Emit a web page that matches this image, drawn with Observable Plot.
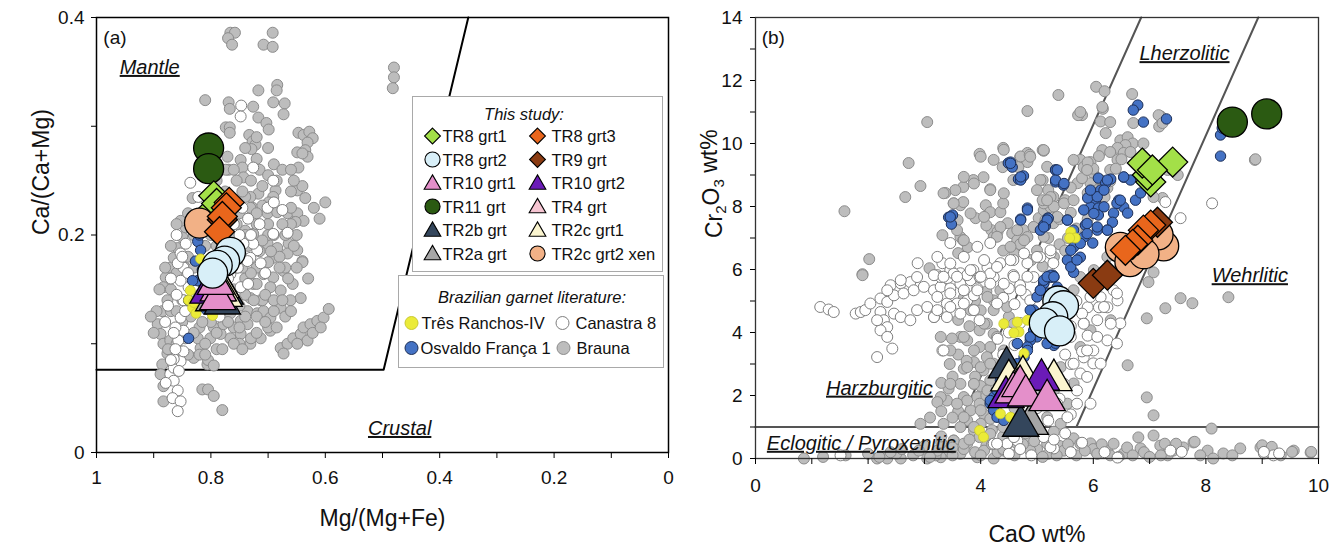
<!DOCTYPE html>
<html><head><meta charset="utf-8">
<script src="https://cdn.jsdelivr.net/npm/d3@7"></script>
<script src="https://cdn.jsdelivr.net/npm/@observablehq/plot@0.6"></script>
<style>
body{margin:0;background:#fff;font-family:"Liberation Sans",Arial,sans-serif;}
#wrap{position:relative;width:1340px;height:549px;overflow:hidden;background:#fff}
.lg{position:absolute;background:#fff;border:1.5px solid #a9a9a9;box-sizing:border-box;font-size:16.5px;color:#111}
.lt{position:absolute;white-space:nowrap;line-height:1}
</style></head><body><div id="wrap"></div>
<script>
// ---------------- series meta ----------------
const studyNames  = ["TR8 grt1","TR8 grt3","TR8 grt2","TR9 grt","TR10 grt1","TR10 grt2","TR11 grt","TR4 grt","TR2b grt","TR2c grt1","TR2a grt","TR2c grt2 xen"];
const studyFill   = ["#a3e048","#e9661c","#d8eff8","#8a3b12","#e48fca","#6b1bb8","#2b5a12","#f6c5d2","#34465c","#fbf5cf","#a6a6a6","#f2b186"];
const studySymbol = ["diamond2","diamond2","circle","diamond2","triangle","triangle","circle","triangle","triangle","triangle","triangle","circle"];
const drawOrder   = ["TR11 grt","TR8 grt1","TR2c grt2 xen","TR9 grt","TR8 grt3","TR2a grt","TR2b grt","TR2c grt1","TR4 grt","TR10 grt2","TR10 grt1","TR8 grt2"];
const litNames = ["Três Ranchos-IV","Canastra 8","Osvaldo França 1","Brauna"];
const litFill  = ["#ebeb38","#ffffff","#4472c4","#bdbdbd"];
const litStroke= ["#c9c930","#7f7f7f","#1d2f57","#8c8c8c"];

// ---------------- panel (a): Mg/(Mg+Fe) vs Ca/(Ca+Mg) ----------------
const xTicksA = [0,0.1,0.2,0.3,0.4,0.5,0.6,0.7,0.8,0.9,1];
const yTicksA = [0,0.1,0.2,0.3,0.4];
const boundaryA = [[1,0.076],[0.498,0.076],[0.35,0.4]];
const studyA = [
 ["TR11 grt",0.804,0.280],["TR11 grt",0.804,0.261],
 ["TR8 grt1",0.795,0.236],["TR8 grt1",0.80,0.222],["TR8 grt1",0.79,0.229],
 ["TR2c grt2 xen",0.82,0.211],
 ["TR9 grt",0.78,0.214],
 ["TR8 grt3",0.768,0.230],["TR8 grt3",0.773,0.225],["TR8 grt3",0.78,0.217],["TR8 grt3",0.785,0.203],
 ["TR2a grt",0.795,0.140],
 ["TR2b grt",0.775,0.146],["TR2b grt",0.78,0.137],
 ["TR2c grt1",0.782,0.152],["TR2c grt1",0.777,0.144],
 ["TR4 grt",0.79,0.149],
 ["TR10 grt2",0.805,0.147],
 ["TR10 grt1",0.787,0.149],["TR10 grt1",0.788,0.141],["TR10 grt1",0.792,0.155],
 ["TR8 grt2",0.766,0.184],["TR8 grt2",0.776,0.176],["TR8 grt2",0.789,0.172],["TR8 grt2",0.797,0.165]
];
const braunaA = [
 [0.766,0.386],[0.758,0.386],[0.77,0.381],[0.763,0.375],[0.692,0.386],[0.708,0.375],[0.692,0.373],
 [0.48,0.354],[0.48,0.345],[0.482,0.335],
 [0.81,0.324],[0.717,0.333],[0.684,0.338],[0.685,0.333],[0.769,0.322],[0.767,0.316],[0.726,0.318],[0.717,0.308],[0.703,0.303],[0.699,0.297],[0.691,0.322],[0.671,0.321],[0.673,0.311],[0.774,0.299],[0.767,0.299],[0.767,0.294],[0.733,0.292],[0.727,0.286],[0.722,0.283],[0.729,0.279],
 [0.647,0.294],[0.638,0.292],[0.628,0.295],[0.622,0.289],[0.649,0.276],[0.631,0.285],[0.635,0.278],[0.631,0.272],[0.640,0.275],
 [0.771,0.272],[0.769,0.260],[0.774,0.260],[0.748,0.269],[0.745,0.262],[0.743,0.253],[0.647,0.262],
 [0.687,0.241],[0.691,0.235],[0.699,0.230],[0.717,0.238],[0.731,0.235],[0.727,0.225],[0.649,0.241],[0.635,0.234],[0.657,0.220],[0.832,0.234],
 [0.731,0.225],[0.710,0.227],[0.701,0.220],[0.684,0.221],[0.666,0.220],[0.649,0.220],[0.638,0.213],[0.652,0.212],[0.740,0.204],[0.726,0.201],
 [0.701,0.192],[0.684,0.188],[0.664,0.192],[0.649,0.186],[0.640,0.176],[0.666,0.183],[0.691,0.179],
 [0.708,0.164],[0.691,0.161],[0.673,0.167],[0.657,0.155],[0.643,0.142],[0.661,0.140],[0.678,0.149],[0.696,0.152],
 [0.726,0.155],[0.731,0.142],[0.713,0.140],[0.736,0.130],[0.719,0.128],[0.748,0.121],[0.760,0.115],[0.736,0.118],[0.708,0.130],[0.696,0.124],[0.678,0.133],[0.696,0.112],[0.713,0.105],[0.731,0.100],[0.748,0.109],[0.766,0.105],[0.783,0.109],[0.801,0.105],[0.795,0.115],[0.778,0.118],[0.766,0.128],
 [0.678,0.096],[0.666,0.100],[0.656,0.105],[0.643,0.109],[0.638,0.115],[0.626,0.118],[0.614,0.121],[0.603,0.124],[0.594,0.132],[0.631,0.103],[0.649,0.100],[0.622,0.110],[0.608,0.115],[0.673,0.091],
 [0.893,0.118],[0.885,0.130],[0.876,0.140],[0.879,0.161],[0.883,0.152],[0.871,0.170],[0.865,0.179],[0.858,0.188],[0.850,0.198],[0.844,0.207],[0.853,0.213],
 [0.888,0.109],[0.883,0.100],[0.876,0.091],[0.885,0.081],[0.871,0.103],[0.858,0.093],[0.830,0.087],[0.818,0.096],[0.806,0.081],[0.823,0.105],
 [0.883,0.047],[0.883,0.061],[0.815,0.058],[0.805,0.058],[0.795,0.052],[0.780,0.039],[0.888,0.072],
 [0.84,0.22],[0.86,0.21],[0.87,0.19],[0.88,0.17],[0.89,0.15],[0.87,0.13],[0.85,0.12],[0.86,0.10],[0.84,0.09],[0.82,0.115],[0.80,0.12],[0.81,0.10],[0.79,0.11],[0.77,0.12],[0.75,0.135],[0.76,0.15],[0.74,0.16],[0.755,0.17],[0.745,0.18],[0.76,0.19],[0.74,0.2],[0.755,0.21],[0.77,0.22],[0.72,0.21],[0.70,0.2],[0.715,0.185],[0.72,0.17],[0.70,0.175],[0.68,0.18],[0.69,0.2],[0.66,0.21],[0.65,0.2],[0.67,0.17],[0.63,0.16],[0.64,0.175],[0.71,0.14],[0.69,0.13],[0.67,0.125],[0.7,0.115],[0.73,0.105],[0.75,0.1],[0.72,0.125],[0.74,0.145],[0.80,0.24],[0.79,0.25],[0.74,0.235],[0.73,0.25],[0.71,0.245],[0.76,0.26],[0.69,0.265],[0.70,0.28],[0.72,0.29],[0.66,0.24],[0.62,0.225],[0.61,0.215],[0.60,0.23],[0.64,0.245],[0.82,0.09],[0.805,0.085],[0.79,0.095],[0.875,0.095],[0.9,0.11],[0.895,0.13],[0.905,0.125],
 [0.70,0.21],[0.71,0.195],[0.695,0.185],[0.68,0.17],[0.665,0.16],[0.65,0.17],[0.655,0.19],[0.67,0.2],[0.675,0.21],[0.66,0.225],[0.72,0.22],[0.735,0.19],[0.73,0.165],[0.72,0.155],[0.705,0.145],[0.69,0.14],[0.675,0.14],[0.66,0.13],[0.685,0.115],[0.705,0.12],[0.72,0.11],[0.74,0.125],[0.755,0.14],[0.77,0.135],[0.785,0.13],[0.8,0.14],[0.815,0.12],[0.83,0.11],[0.845,0.105],[0.86,0.13],[0.87,0.15],[0.86,0.165],[0.85,0.14],[0.835,0.125],[0.81,0.09],[0.795,0.08],[0.78,0.095],[0.76,0.1],[0.745,0.095],[0.75,0.115],[0.725,0.14],[0.745,0.17],[0.76,0.18],[0.765,0.2],[0.75,0.22],[0.745,0.24],[0.76,0.23],[0.775,0.24],[0.785,0.21],[0.79,0.19],[0.8,0.2],[0.81,0.19],[0.83,0.2],[0.84,0.18],[0.845,0.17],[0.83,0.17],[0.815,0.155],[0.805,0.16],[0.715,0.26],[0.7,0.255],[0.685,0.25],[0.675,0.26],[0.66,0.26],[0.655,0.25],[0.72,0.27],[0.74,0.28],[0.755,0.25]
];
const canastraA = [
 [0.747,0.319],[0.748,0.309],[0.691,0.250],[0.836,0.248],[0.822,0.235],[0.675,0.223],[0.701,0.225],[0.691,0.201],[0.666,0.202],[0.719,0.186],[0.731,0.179],[0.713,0.174],[0.726,0.262],
 [0.871,0.072],[0.865,0.066],[0.879,0.064],[0.858,0.057],[0.867,0.050],[0.853,0.047],[0.858,0.038],[0.865,0.078],[0.853,0.084],[0.848,0.093],[0.857,0.103],[0.848,0.112],[0.862,0.115],[0.853,0.124],[0.848,0.140],[0.839,0.152],[0.853,0.158],[0.848,0.170],[0.858,0.174],[0.853,0.183],[0.844,0.192],
 [0.753,0.170],[0.736,0.176],[0.726,0.192],[0.743,0.192],[0.778,0.158],[0.766,0.164],[0.748,0.152],[0.766,0.142],
 [0.87,0.16],[0.86,0.145],[0.875,0.135],[0.88,0.12],[0.865,0.11],[0.86,0.2],[0.85,0.18],[0.84,0.165],[0.83,0.15],[0.82,0.145],[0.77,0.16],[0.78,0.175],[0.75,0.2],[0.73,0.2],[0.735,0.215],[0.69,0.23],[0.80,0.13],[0.785,0.125],[0.865,0.086],[0.856,0.075],
 [0.76,0.21],[0.745,0.225],[0.715,0.21],[0.705,0.165],[0.735,0.155],[0.79,0.2],[0.8,0.21],[0.83,0.21],[0.845,0.13],[0.87,0.085],[0.862,0.095]
];
const osvaldoA = [[0.823,0.194],[0.818,0.186],[0.827,0.176],[0.823,0.158],[0.832,0.158],[0.839,0.140],[0.839,0.105],[0.809,0.132],[0.82,0.2],[0.815,0.168]];
const tresA = [[0.836,0.149],[0.839,0.140],[0.832,0.133],[0.797,0.126],[0.818,0.178],[0.830,0.138],[0.826,0.128]];

// ---------------- panel (b): CaO vs Cr2O3 ----------------
const xTicksB = [0,1,2,3,4,5,6,7,8,9,10];
const yTicksB = [0,1,2,3,4,5,6,7,8,9,10,11,12,13,14];
const lineEclogitic = [[0,1],[10,1]];
const lineLherzLeft = [[3.6,1],[6.85,14]];
const lineWehrlitic = [[5.7,1],[8.93,14]];
const studyB = [
 ["TR11 grt",8.47,10.68],["TR11 grt",9.08,10.94],
 ["TR8 grt1",7.02,8.78],["TR8 grt1",6.96,9.0],["TR8 grt1",7.41,9.41],["TR8 grt1",6.87,9.38],["TR8 grt1",7.05,9.16],
 ["TR2c grt2 xen",7.25,6.75],["TR2c grt2 xen",7.15,7.1],["TR2c grt2 xen",6.48,6.7],["TR2c grt2 xen",6.65,6.25],["TR2c grt2 xen",6.9,6.5],
 ["TR9 grt",6.0,5.56],["TR9 grt",6.25,5.82],["TR9 grt",7.14,7.5],
 ["TR8 grt3",7.02,7.41],["TR8 grt3",6.89,7.25],["TR8 grt3",6.79,6.93],["TR8 grt3",6.7,6.8],["TR8 grt3",6.57,6.61],
 ["TR2a grt",4.88,1.1],
 ["TR2b grt",4.46,2.89],["TR2b grt",4.71,1.04],
 ["TR2c grt1",4.5,2.48],["TR2c grt1",5.3,2.49],["TR2c grt1",4.75,2.6],
 ["TR4 grt",4.65,2.2],
 ["TR10 grt2",5.08,2.5],["TR10 grt2",4.45,1.95],
 ["TR10 grt1",4.58,2.1],["TR10 grt1",4.7,2.3],["TR10 grt1",4.8,2.0],["TR10 grt1",5.18,1.85],
 ["TR8 grt2",5.37,5.0],["TR8 grt2",5.47,4.85],["TR8 grt2",5.28,4.5],["TR8 grt2",5.13,4.3],["TR8 grt2",5.4,4.05]
];
const braunaB = [
 [5.38,11.54],[4.83,11.03],[3.05,10.68],[2.72,9.38],[2.93,8.65],[2.66,8.3],[1.58,7.85],[2.02,6.33],[1.9,5.85],[3.98,9.67],[4.4,9.86],[4.7,9.57],[4.83,9.7],[4.83,9.41],[4.67,9.25],[5.1,9.79],[4.39,9.25],[4.58,8.84],[4.05,8.93],[3.87,8.84],[3.69,8.62],[3.55,8.52],[3.37,8.43],[4.17,8.55],[3.52,8.1],[3.64,8.04],[3.69,8.14],[4.09,8.04],[4.17,7.82],[4.35,7.82],[4.4,8.1],[3.91,7.63],[3.32,7.09],[3.59,7.57],[3.64,7.03],[3.77,6.71],[3.69,6.93],[4.19,7.25],[4.23,7.03],
 [4.48,7.47],[4.56,7.15],[4.65,6.93],[4.76,7.25],[4.83,7.03],[4.94,7.35],[5.03,7.63],[5.12,7.88],[5.24,7.98],[5.29,8.3],[5.12,8.1],[5.2,8.52],[5.1,8.84],[5.15,7.57],[5.29,7.47],[3.09,6.04],[3.6,6.52],
 [6.05,11.8],[6.2,11.66],[6.69,11.57],[6.17,11.1],[5.8,10.9],[5.73,10.9],[6.13,10.7],[7.2,10.86],[7.17,10.54],[8.87,9.48],[4.41,9.8],[4.71,9.59],[4.87,9.64],[5.12,9.77],
 [5.77,11.0],[6.16,11.16],[6.3,10.68],[7.16,10.9],[7.23,10.65],[6.71,10.65],[6.22,10.33],[6.48,10.1],[6.61,10.2],[6.7,10.0],[6.57,9.95],[6.43,9.86],[6.54,9.7],[6.66,9.73],[6.89,10.0],[6.16,9.79],[6.3,9.73],[5.12,9.79],[5.77,9.48],[5.95,9.41],[5.83,9.25],[6.0,9.06],[6.13,8.84],[5.95,8.74],[5.72,8.74],[5.9,8.43],[6.07,8.52],[6.25,8.59],[6.43,9.48],[6.3,9.16],[5.06,8.84],[5.1,8.2],[5.24,8.3],[7.32,9.16],[7.41,9.41],[7.5,9.0],[7.23,8.27],[7.07,8.3],[7.07,5.91],[6.98,5.6],[8.88,9.5],[8.4,5.12],[7.55,5.09],[7.76,4.93],[7.28,4.77],[6.95,4.45],[6.61,2.96],[6.95,1.94],[7.07,1.37],[8.1,0.95],[6.8,0.67],[7.07,0.73],[7.78,0.51],
 [5.65,0.64],[5.95,0.48],[6.25,0.25],[6.54,0.16],[6.84,0.32],[7.19,0.41],[7.42,0.25],[7.6,0.35],[8.03,0.25],[8.31,0.16],[8.61,0.32],[8.97,0.35],[9.15,0.19],[9.56,0.25],[9.86,0.19],[9.33,0.1],[7.9,0.1],[7.32,0.1],[5.42,0.32],[5.24,0.48],[6.07,0.16],
 [9.0,0.42],[9.17,0.37],[9.53,0.21],[9.87,0.21],[8.47,0.1],[8.13,0.0],[7.8,0.53],[7.47,0.47],[7.27,0.47],
 [1.9,5.82],[3.7,2.85],[3.88,3.06],[3.76,3.75],[3.64,3.86],[3.49,3.81],[3.43,2.22],[3.4,1.84],[3.29,1.95],[3.23,1.79],[3.64,2.37],[3.88,2.37],[3.7,1.95],[3.94,1.95],[3.82,1.53],[3.98,1.74],[4.05,1.42],[4.17,1.26],[3.76,1.21],[3.64,1.0],[3.88,0.89],[3.98,0.68],[3.76,0.47],[3.52,0.57],[3.4,0.25],[3.64,0.15],[3.94,0.04],[4.23,0.0],[3.29,0.04],[3.05,0.0],[2.93,1.1],[2.58,0.0],[2.34,0.0],[2.16,0.0],[0.86,0.0],[4.11,4.28],[4.23,3.96],[4.17,3.54],[3.98,3.54],[4.11,3.22],[4.23,3.01],[4.05,2.8],[4.17,2.48],[3.98,4.07],[4.23,4.71],[4.35,5.34],[4.23,5.02],
 [5.24,4.81],[5.48,4.92],[5.65,5.34],[5.77,5.76],[6.01,5.98],[6.25,6.4],[6.42,6.72],[5.59,3.96],[5.95,4.07],[6.31,4.39],[5.77,3.54],[5.42,2.9],[5.65,2.38],[5.54,1.74],[5.3,2.16],[5.18,1.31],[5.42,1.1],[6.13,5.76],[6.48,6.08],[6.6,6.3],
 [5.3,8.0],[5.5,8.2],[5.6,8.6],[5.8,8.9],[6.0,9.2],[5.4,7.6],[5.6,7.8],[5.7,7.3],[5.9,7.6],[6.1,8.0],[6.2,8.3],[5.2,7.0],[5.4,6.8],[5.55,7.0],[5.0,6.6],[4.9,6.3],[5.1,6.1],[5.3,6.4],[5.5,6.6],[5.7,6.9],[6.3,8.8],[6.4,9.2],[6.5,9.5],[5.9,9.4],[6.1,9.6],[4.7,6.8],[4.6,6.5],[4.4,6.6],[4.3,7.2],[4.1,7.4],
 [3.6,3.3],[3.75,3.1],[3.9,2.6],[4.0,2.3],[4.1,2.0],[4.0,1.1],[4.2,0.9],[4.4,0.7],[4.1,0.4],[4.3,0.2],[4.5,0.5],[4.6,0.9],[4.8,0.6],[5.0,0.3],[5.2,0.15],[5.4,0.4],[5.7,0.1],[6.0,0.3],[6.3,0.1],[6.6,0.35],[6.9,0.2],[7.2,0.1],[3.9,0.2],[3.7,0.3],[3.5,0.1],[3.2,0.1],[2.8,0.1],[2.5,0.15],[2.2,0.05],[3.0,0.4],[3.6,4.4],[3.8,4.2],[3.9,5.0],[4.1,5.3],[3.7,5.1],[4.0,4.7],[4.5,4.5],[4.4,3.0],[4.3,1.7],[3.6,1.5],[3.5,2.6],[3.3,2.4],[3.45,3.0],[4.6,1.6],[4.7,1.9],
 [3.70,3.86],[3.88,3.43],[3.76,2.9],[4.0,2.9],[3.88,2.37],[4.12,2.16],[3.76,1.84],[4.0,1.53],[3.7,1.31],[3.88,1.0],[4.17,0.78],[3.7,0.47],[4.06,0.25],[4.41,0.25],[4.65,0.47],[4.88,0.25],[5.18,0.47],[5.48,0.25],[5.77,0.47],[6.07,0.15],[6.36,0.47],[4.29,3.86],[4.41,3.43],[4.53,3.01],[3.46,3.43],[3.46,2.37],[3.58,1.74],[3.34,1.1],[3.52,0.57],[3.23,0.25],[4.17,3.01],[4.06,4.28],[3.82,4.71],[4.12,5.13],[4.47,4.81],[4.59,4.28],[3.29,3.86],[3.17,4.49],
 [4.0,9.58],[4.23,9.48],[4.88,9.58],[5.18,9.26],[5.65,9.48],[5.89,9.16],[3.7,8.94],[3.88,8.73],[4.17,8.52],[4.41,8.42],[5.0,8.52],[5.18,8.2],[3.34,8.42],[3.52,8.1],[3.82,7.78],[4.06,7.67],[4.35,7.35],[4.65,7.25],[4.94,7.35],[5.36,7.67],[5.48,8.1],[5.65,8.2],[3.58,7.25],[3.7,6.93],[4.29,7.04],[4.53,6.72],[4.77,6.93],[5.12,7.04],
 [2.4,0.2],[2.6,0.3],[2.9,0.25],[3.1,0.05],[3.3,0.5],[3.5,0.35],[3.8,0.6],[4.0,0.1],[4.2,0.45],[4.4,0.3],[4.6,0.1],[4.75,0.45],[4.95,0.55],[5.1,0.05],[5.35,0.1],[5.55,0.45],[5.85,0.25],[6.15,0.45],[6.45,0.05],[6.7,0.1],[7.0,0.05],[1.2,0.05],[1.6,0.1],[2.0,0.15],[4.4,1.0],[4.6,1.2],[5.0,1.0],[5.3,0.85],[4.8,0.8],[3.3,0.7],[3.5,1.3],[3.3,1.5],[3.1,1.3]
];
const canastraB = [
 [2.88,6.2],[3.32,6.2],[3.46,5.98],[3.64,5.88],[3.87,5.98],[4.12,6.07],[4.35,6.2],[4.58,6.3],[4.83,6.2],[5.06,6.39],[5.24,6.52],[5.29,6.2],[3.46,6.84],[4.17,6.84],[2.4,5.5],[2.58,5.56],[2.75,5.6],[3.23,5.82],[3.41,5.72],[3.87,5.76],[4.23,5.76],[4.58,5.82],[4.94,5.76],
 [8.11,8.1],[7.55,7.63],[7.28,8.14],[7.02,7.03],[7.14,7.25],[6.43,5.02],[6.25,4.8],[6.48,4.29],[6.07,4.39],[5.83,4.29],[5.9,4.8],[6.13,5.12],[6.36,5.34],[6.25,3.75],[6.0,3.43],[5.83,3.21],[6.0,3.02],[5.77,2.7],[5.3,0.32],[6.43,0.03],[7.37,0.25],[9.03,0.16],[9.2,0.1],[7.57,0.21],[9.3,0.16],[9.03,0.21],
 [1.15,4.81],[1.3,4.73],[1.39,4.65],[1.78,4.6],[1.87,4.65],[1.95,4.71],[2.04,4.92],[2.22,5.08],[2.34,4.97],[2.46,5.18],[2.63,5.24],[2.81,5.34],[2.99,5.45],[3.17,5.34],[3.29,5.45],[3.46,5.4],[3.64,5.55],[3.82,5.66],[3.98,5.76],[4.17,5.87],[2.58,5.66],[2.87,5.76],[3.29,5.76],[3.52,5.87],[3.76,5.82],[2.46,4.6],[2.22,4.65],[2.28,4.39],[2.34,4.17],[2.22,4.07],[2.34,3.86],[2.43,3.49],[2.16,3.22],[2.16,4.39],[2.58,4.49],[2.75,4.39],[2.87,4.71],[3.05,4.81],[3.23,4.65],[3.4,4.92],[3.58,4.92],[3.76,5.02],[3.88,4.71],[3.98,4.39],[3.88,5.18],[3.4,4.49],[3.17,4.49],[3.32,3.43],[3.64,4.6],[2.34,5.34],[3.17,5.82],[3.94,5.4],
 [4.47,0.47],[4.65,0.57],[4.23,0.47],[5.24,0.36],[5.12,0.68],[1.51,0.1],
 [4.5,5.4],[4.7,5.5],[4.4,5.1],[4.6,4.9],[4.8,5.2],[5.0,4.6],[4.7,4.3],[4.5,4.0],[4.6,3.6],[4.3,3.8],[4.4,3.3],[5.5,4.6],[5.7,5.0],[5.6,4.2],[5.8,4.6],[6.0,5.3],[5.9,5.6],[5.5,3.3],[5.3,2.8],[5.6,3.0],[5.8,3.4],[5.9,3.9],[6.1,4.8],[5.2,2.3],[5.1,2.0],[5.4,1.9],[5.0,1.6],[5.2,1.2],[4.9,0.9],[5.3,0.6],[5.5,0.8],[5.6,1.4],[4.7,0.3],[4.5,0.15],[4.9,0.1],[5.6,0.2],[5.8,0.5],[6.2,0.2],
 [3.23,6.4],[3.46,6.19],[3.34,5.77],[3.58,5.77],[3.82,5.98],[4.06,6.3],[4.29,6.08],[4.53,6.3],[4.77,6.51],[5.0,6.4],[5.24,6.61],[4.59,5.77],[4.83,5.77],[4.41,5.55],[4.17,5.55],[3.94,5.34],[3.7,5.34],[3.46,5.24],[3.23,5.13],[3.46,4.81],[3.7,4.92],[4.29,4.92],[4.71,5.34],[4.88,5.02],[3.23,4.71],[4.0,5.77],[3.7,6.4],[3.94,6.72],
 [5.6,3.86],[5.83,4.28],[6.07,3.86],[6.31,4.28],[5.89,3.43],[5.65,3.01],[5.89,2.59],[6.13,3.01],[5.71,2.16],[5.54,1.31],[5.71,1.74],[5.95,1.74],[5.48,2.37],[5.36,1.74],[6.42,3.65],[6.19,4.81],[5.95,5.13],[6.42,5.24],[3.34,3.43],[4.29,0.47],[4.59,0.68]
];
const osvaldoB = [
 [4.49,9.38],[4.56,9.25],[4.53,9.41],[4.67,8.87],[4.76,8.97],[4.71,8.84],[3.43,7.66],[3.5,7.73],[3.48,7.44],[4.83,7.95],[4.71,7.6],[5.19,7.63],[5.15,7.38],[5.33,9.16],[5.33,8.78],[5.19,5.76],[5.28,5.82],[5.12,5.56],
 [6.79,11.22],[6.71,11.06],[6.89,10.68],[7.3,10.78],[8.26,10.27],[8.29,10.49],[8.26,9.6],[5.33,9.16],[5.33,8.84],[5.47,8.68],
 [6.09,8.9],[6.31,8.87],[6.54,8.93],[6.66,8.84],[6.22,8.74],[6.13,8.52],[6.04,8.2],[5.95,7.98],[6.09,7.95],[5.9,8.27],[6.45,8.2],[6.54,7.98],[6.61,7.79],[6.75,8.2],[6.84,8.43],[6.36,7.79],[6.34,7.5],[6.09,7.73],[5.54,7.57],[5.86,7.41],[6.07,7.25],[6.25,7.25],[5.83,7.03],[5.99,6.84],[5.65,6.71],[5.54,6.3],[5.77,6.39],[5.65,5.91],[5.24,5.75],[5.12,5.56],[5.36,5.44],[5.19,5.25],
 [5.12,7.41],[5.2,7.63],[5.06,7.25],[5.3,3.59],[5.33,3.66],
 [5.12,5.66],[5.24,5.82],[5.3,5.76],[5.06,5.34],[5.0,5.13],[4.94,4.71],[5.0,3.86],[4.88,3.75],[4.83,3.54],[4.77,3.22],[4.65,3.01],[4.47,2.8],[4.35,2.48],[4.29,2.16],[4.23,1.95],[4.17,1.74],[4.23,1.53],[4.29,1.31],[4.41,1.21],[4.94,4.07],[5.18,3.65],
 [4.17,1.84],[4.29,2.16],[4.65,3.65],[4.83,3.43],[4.88,3.86],[4.88,4.71],[5.06,5.34],[5.18,5.77],[5.3,5.77],[5.6,6.08],[5.71,6.3],[5.6,6.61],[5.77,6.83],[5.89,7.14],[6.07,7.35],[6.25,7.25],[5.89,7.46],[5.54,7.57],[6.01,7.78],[6.19,7.99],[6.42,8.1],[6.07,8.31],[5.95,8.52],[6.19,8.52],[6.25,8.84],[6.54,8.94],[6.48,8.2],[5.36,9.16],[5.48,8.73],[4.53,9.37],[4.71,8.94],[4.83,7.89],[4.71,7.57],[5.18,7.57],[3.46,7.67],[5.12,7.35],[5.83,7.89],[5.65,7.25]
];
const tresB = [[5.6,7.19],[5.68,7.0],[5.58,7.0],[4.41,4.28],[4.65,4.33],[4.68,4.02],[4.83,4.39],[4.59,3.99],[4.77,3.33],[4.71,2.9],[3.98,0.89],[4.05,0.68],[4.53,1.31],[4.35,1.42]];

// ---------------- rendering ----------------
const FONT = '"Liberation Sans", Arial, sans-serif';
const fillOf = n => studyFill[studyNames.indexOf(n)];
const symOf = n => studySymbol[studyNames.indexOf(n)];
const rOf = s => s === "circle" ? 15 : 13.5;

function litMarks(brauna, canastra, osvaldo, tres) {
  return [
    Plot.dot(brauna, {x: d => d[0], y: d => d[1], r: 5.5, fill: litFill[3], stroke: litStroke[3], strokeWidth: 1}),
    Plot.dot(canastra, {x: d => d[0], y: d => d[1], r: 5.5, fill: litFill[1], stroke: litStroke[1], strokeWidth: 1}),
    Plot.dot(osvaldo, {x: d => d[0], y: d => d[1], r: 5.2, fill: litFill[2], stroke: litStroke[2], strokeWidth: 1}),
    Plot.dot(tres, {x: d => d[0], y: d => d[1], r: 5, fill: litFill[0], stroke: litStroke[0], strokeWidth: 0.8})
  ];
}
function studyMarks(rows) {
  return drawOrder.map(n => Plot.dot(rows.filter(r => r[0] === n), {
    x: d => d[1], y: d => d[2], symbol: symOf(n), r: rOf(symOf(n)),
    fill: fillOf(n), stroke: "#000", strokeWidth: 1.3
  }));
}

const plotA = Plot.plot({
  width: 680, height: 549, marginLeft: 96, marginRight: 12, marginTop: 17, marginBottom: 97,
  x: {domain: [1, 0]}, y: {domain: [0, 0.4]},
  style: {fontFamily: FONT, fontSize: "19px", color: "#111", background: "transparent", overflow: "visible"},
  marks: [
    Plot.line(boundaryA, {x: d => d[0], y: d => d[1], stroke: "#000", strokeWidth: 2}),
    ...litMarks(braunaA, canastraA, osvaldoA, tresA),
    ...studyMarks(studyA),
    Plot.frame({stroke: "#000", strokeWidth: 1.5}),
    Plot.axisX({ticks: xTicksA, tickFormat: (d) => (Math.round(d * 10) % 2 === 0) ? (d === 1 ? "1" : d === 0 ? "0" : d.toFixed(1)) : "", tickSize: 6, tickPadding: 12, label: null, stroke: "#000"}),
    Plot.axisY({ticks: yTicksA, tickFormat: (d) => (Math.round(d * 10) % 2 === 0) ? (d === 0 ? "0" : d.toFixed(1)) : "", tickSize: 5, tickPadding: 7, label: null, stroke: "#000"}),
    Plot.text(["(a)"], {x: 0.988, y: 0.381, text: d => d, textAnchor: "start", fontSize: 19}),
    Plot.text(["Mantle"], {x: 0.907, y: 0.354, text: d => d, fontSize: 20, fontStyle: "italic"}),
    Plot.text(["Crustal"], {x: 0.47, y: 0.022, text: d => d, fontSize: 20, fontStyle: "italic"}),
    Plot.text(["Mg/(Mg+Fe)"], {frameAnchor: "bottom", dy: 73, text: d => d, fontSize: 23}),
    Plot.text(["Ca/(Ca+Mg)"], {frameAnchor: "left", dx: -55, rotate: -90, text: d => d, fontSize: 23})
  ]
});

const plotB = Plot.plot({
  width: 660, height: 549, marginLeft: 75, marginRight: 22, marginTop: 17, marginBottom: 91,
  x: {domain: [0, 10]}, y: {domain: [0, 14]},
  style: {fontFamily: FONT, fontSize: "19px", color: "#111", background: "transparent", overflow: "visible"},
  marks: [
    Plot.line(lineEclogitic, {x: d => d[0], y: d => d[1], stroke: "#555", strokeWidth: 2}),
    Plot.line(lineLherzLeft, {x: d => d[0], y: d => d[1], stroke: "#555", strokeWidth: 2}),
    Plot.line(lineWehrlitic, {x: d => d[0], y: d => d[1], stroke: "#555", strokeWidth: 2}),
    ...litMarks(braunaB, canastraB, osvaldoB, tresB),
    ...studyMarks(studyB),
    Plot.frame({stroke: "#333", strokeWidth: 1.3}),
    Plot.axisX({ticks: xTicksB, tickFormat: d => d % 2 === 0 ? String(d) : "", tickSize: 6, tickPadding: 14, label: null, stroke: "#000"}),
    Plot.axisY({ticks: yTicksB, tickFormat: d => d % 2 === 0 ? String(d) : "", tickSize: 5, tickPadding: 8, label: null, stroke: "#000"}),
    Plot.text(["(b)"], {x: 0.11, y: 13.35, text: d => d, textAnchor: "start", fontSize: 19}),
    Plot.text(["Lherzolitic"], {x: 7.62, y: 12.85, text: d => d, fontSize: 20, fontStyle: "italic"}),
    Plot.text(["Wehrlitic"], {x: 8.78, y: 5.8, text: d => d, fontSize: 20, fontStyle: "italic"}),
    Plot.text(["Harzburgitic"], {x: 2.2, y: 2.23, text: d => d, fontSize: 20, fontStyle: "italic"}),
    Plot.text(["Eclogitic / Pyroxenitic"], {x: 1.88, y: 0.48, text: d => d, fontSize: 20, fontStyle: "italic"}),
    Plot.text(["CaO wt%"], {frameAnchor: "bottom", dy: 83, text: d => d, fontSize: 23}),
    Plot.text(["Cr2O3 wt%"], {frameAnchor: "left", dx: -41, rotate: -90, text: d => d, fontSize: 23})
  ]
});

const wrap = document.getElementById("wrap");
[[plotA, 0], [plotB, 680]].forEach(([svg, left]) => {
  svg.style.position = "absolute"; svg.style.left = left + "px"; svg.style.top = "0px";
  wrap.appendChild(svg);
});

// underline region labels; subscripts in Cr2O3
const underlined = ["Mantle","Crustal","Lherzolitic","Wehrlitic","Harzburgitic","Eclogitic / Pyroxenitic"];
d3.selectAll("#wrap svg text").each(function() {
  const t = this.textContent;
  if (underlined.includes(t)) this.style.textDecoration = "underline";
  if (t === "Cr2O3 wt%") {
    const sel = d3.select(this); sel.text("");
    sel.append("tspan").text("Cr");
    sel.append("tspan").attr("dy", "0.3em").attr("font-size", 15).text("2");
    sel.append("tspan").attr("dy", "-0.3em").text("O");
    sel.append("tspan").attr("dy", "0.3em").attr("font-size", 15).text("3");
    sel.append("tspan").attr("dy", "-0.3em").text(" wt%");
  }
});

// ---------------- legends ----------------
const symMap = {circle: d3.symbolCircle, diamond2: d3.symbolDiamond2, triangle: d3.symbolTriangle};
const legSize = {circle: 180, diamond2: 160, triangle: 120};
function box(left, top, w, h) {
  const b = document.createElement("div"); b.className = "lg";
  Object.assign(b.style, {left: left + "px", top: top + "px", width: w + "px", height: h + "px"});
  wrap.appendChild(b); return b;
}
function label(parent, text, x, y, opts = {}) {
  const el = document.createElement("div"); el.className = "lt"; el.textContent = text;
  Object.assign(el.style, {left: x + "px", top: y + "px", transform: opts.center ? "translate(-50%,-50%)" : "translate(0,-50%)"});
  if (opts.italic) el.style.fontStyle = "italic";
  parent.appendChild(el); return el;
}
function symSvg(parent, w, h) {
  const s = d3.create("svg").attr("width", w).attr("height", h).style("position", "absolute").style("left", "0").style("top", "0").style("overflow", "visible");
  parent.appendChild(s.node()); return s;
}
{
  const L = 412, T = 96, b = box(L, T, 251, 176);
  const s = symSvg(b, 251, 176);
  label(b, "This study:", 523 - L, 113 - T, {center: true, italic: true});
  studyNames.forEach((n, i) => {
    const col = i % 2, row = Math.floor(i / 2);
    const cy = 135 + row * 23.5 - T, cx = (col ? 538 : 433) - L;
    const sy = studySymbol[i];
    s.append("path").attr("d", d3.symbol(symMap[sy], legSize[sy])()).attr("transform", `translate(${cx - 1.5},${cy + (sy === "triangle" ? 1.5 : 0)})`)
      .attr("fill", studyFill[i]).attr("stroke", "#000").attr("stroke-width", 1.1);
    label(b, n, (col ? 552 : 443) - L - 1.5, cy);
  });
}
{
  const L = 398, T = 275, b = box(L, T, 266, 93);
  const s = symSvg(b, 266, 93);
  label(b, "Brazilian garnet literature:", 531 - L, 296 - T, {center: true, italic: true});
  const pos = [[412, 322, 422], [563, 322, 576], [412, 347, 421], [564, 347, 577]];
  litNames.forEach((n, i) => {
    const [cx, cy, tx] = pos[i];
    s.append("circle").attr("cx", cx - L - 1.5).attr("cy", cy - T).attr("r", 6.5)
      .attr("fill", litFill[i]).attr("stroke", litStroke[i]).attr("stroke-width", 1);
    label(b, n, tx - L - 1.5, cy - T);
  });
}
</script></body></html>
